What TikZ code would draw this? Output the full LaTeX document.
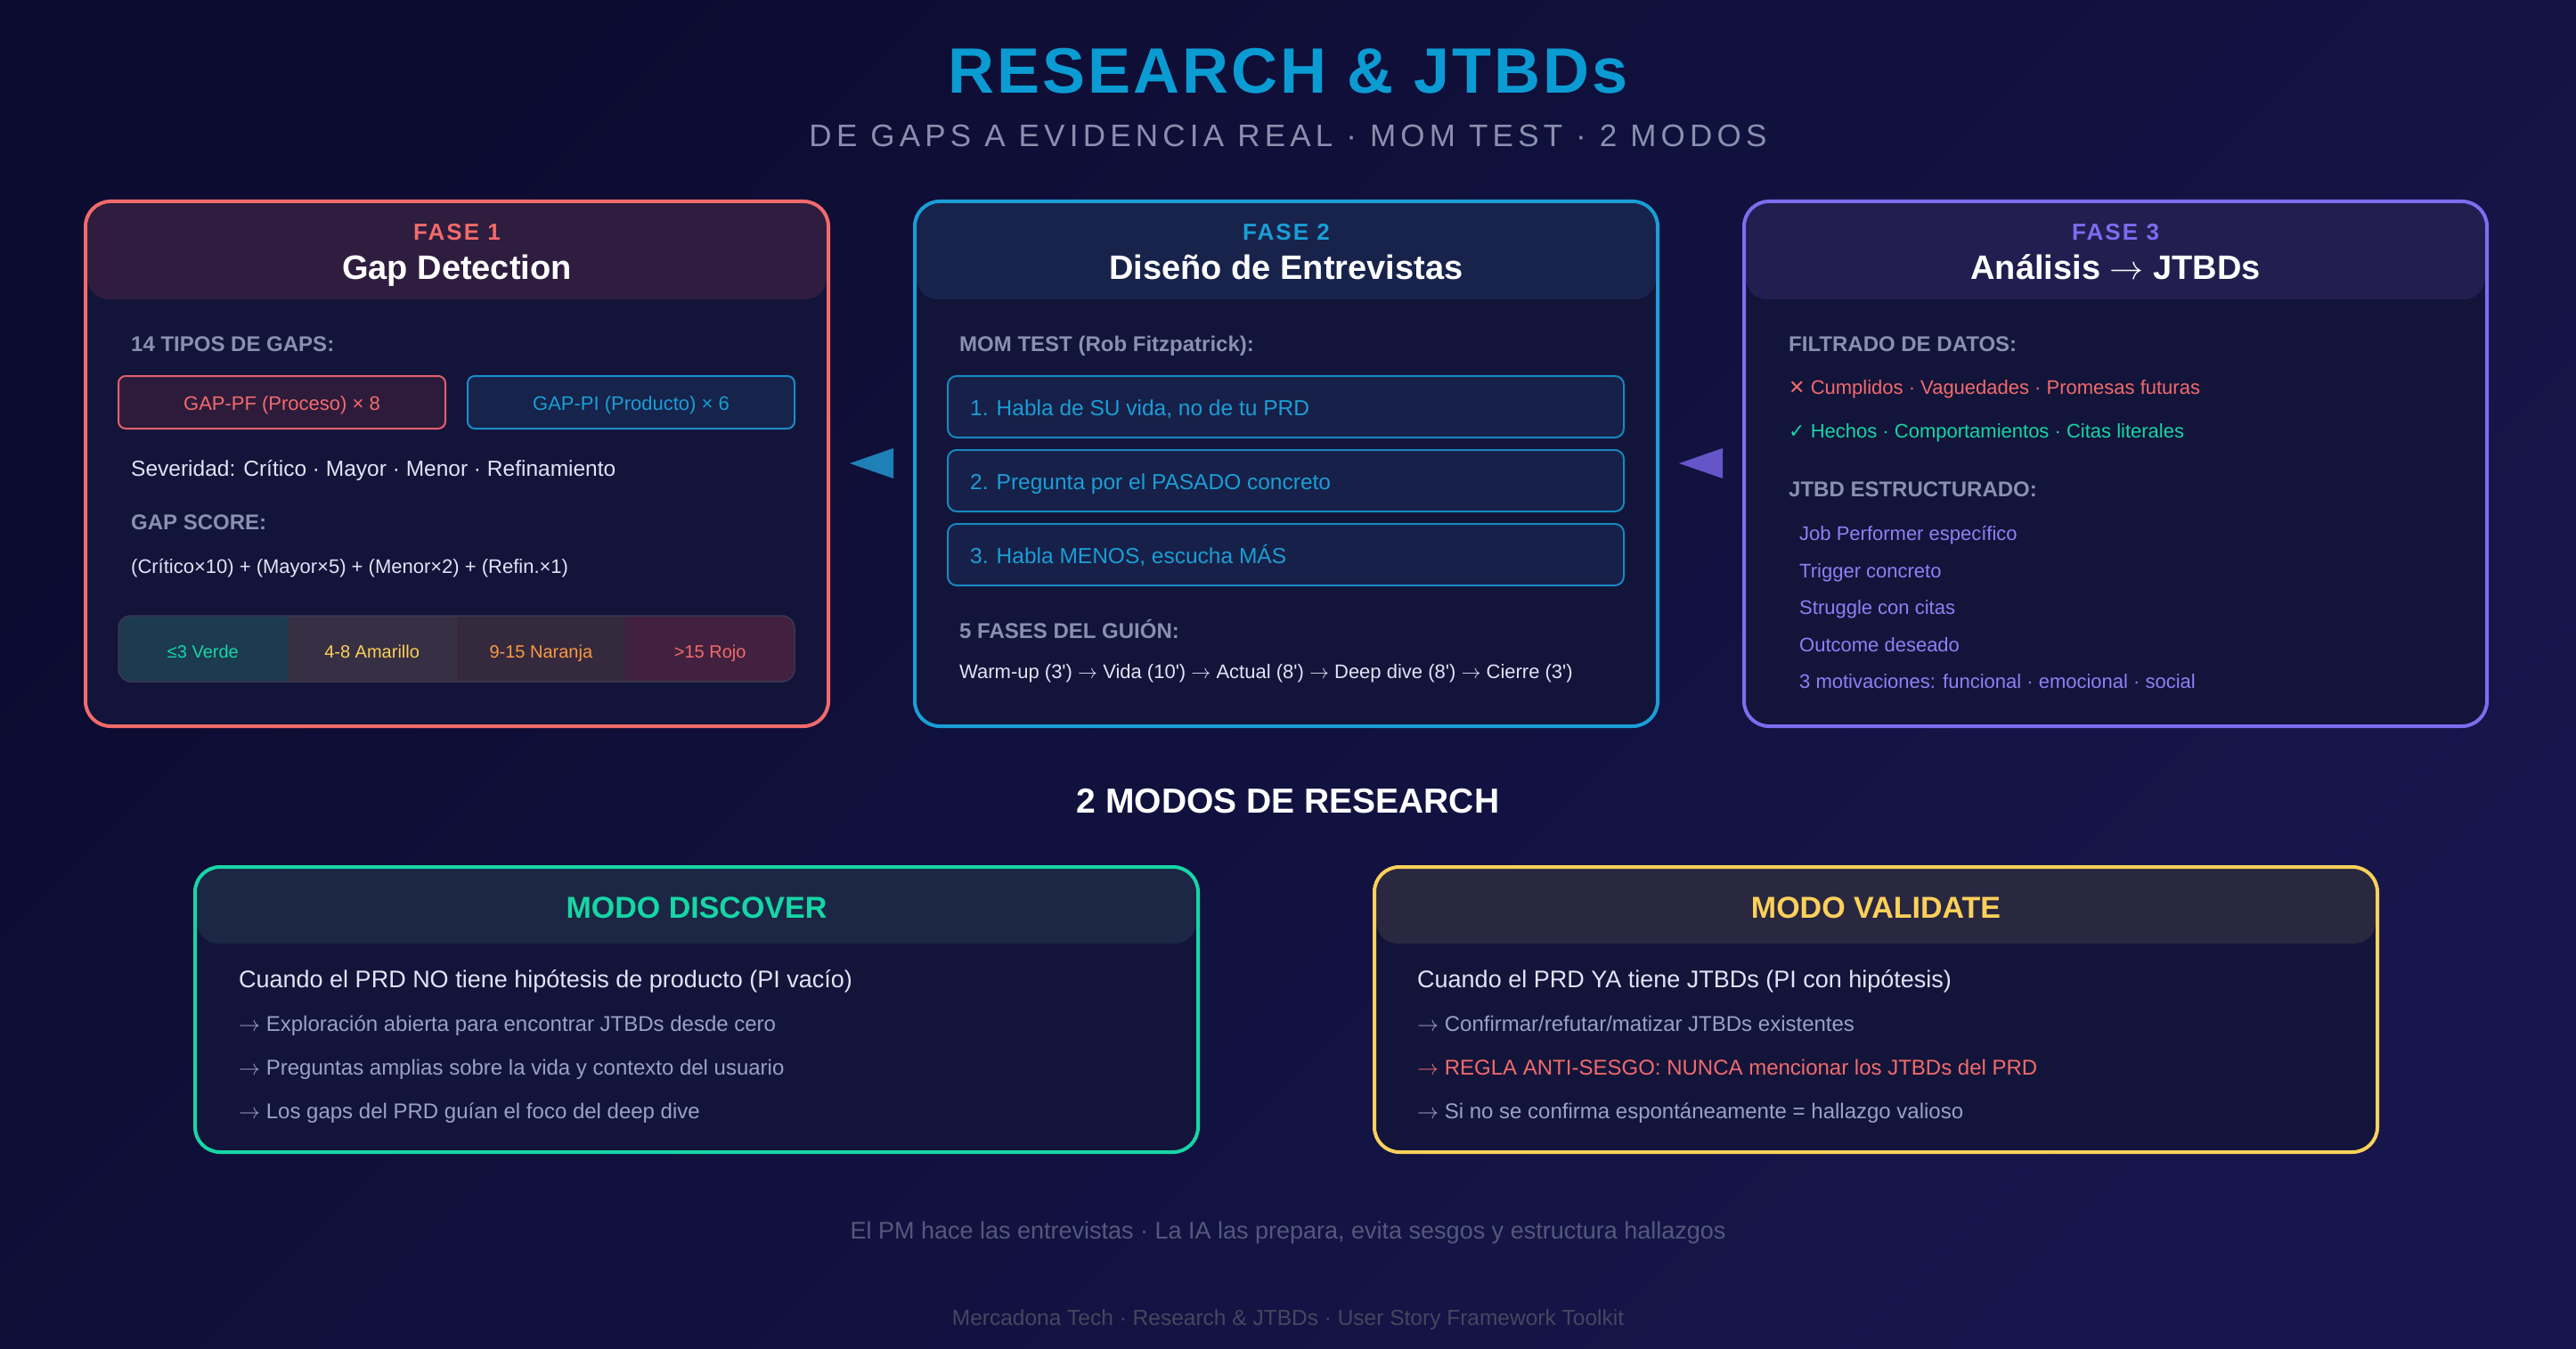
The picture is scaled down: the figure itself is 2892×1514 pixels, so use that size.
\RequirePackage{fix-cm}
\documentclass[tikz,border=0pt]{standalone}
\usepackage{fontspec}
\setmainfont{Liberation Sans}
\newfontfamily\dejavu{DejaVu Sans}
\usetikzlibrary{positioning}

\newcommand\fsz[1]{\fontsize{#1pt}{#1pt}\selectfont}
\newcommand\apos{\XeTeXglyph\XeTeXcharglyph"27\relax}
\newcommand\arr{\ensuremath{\rightarrow}}

\definecolor{bgA}{HTML}{0C0C31}
\definecolor{bgB}{HTML}{16164C}
\definecolor{bodyfill}{HTML}{13143A}
\definecolor{titleblue}{HTML}{0B9BD3}
\definecolor{subgray}{HTML}{8A8FAE}
\definecolor{redc}{HTML}{F26B6B}
\definecolor{bluec}{HTML}{1A9ED6}
\definecolor{purplec}{HTML}{7C6DF0}
\definecolor{itempurple}{HTML}{8E80F5}
\definecolor{greenc}{HTML}{16D6A6}
\definecolor{yellowc}{HTML}{FCD15A}
\definecolor{orangec}{HTML}{FB9A45}
\definecolor{labelgray}{HTML}{8A90B0}
\definecolor{textwhite}{HTML}{E2E3F6}
\definecolor{textdim}{HTML}{9CA0C4}
\definecolor{hdred}{HTML}{2E1D3E}
\definecolor{hdblue}{HTML}{17234B}
\definecolor{hdpurple}{HTML}{221E50}
\definecolor{hdgreen}{HTML}{1B2744}
\definecolor{hdyellow}{HTML}{2A2740}
\definecolor{tagredfill}{HTML}{2D1B3B}
\definecolor{tagrededge}{HTML}{E2606A}
\definecolor{tagbluefill}{HTML}{16234B}
\definecolor{tagblueedge}{HTML}{1A8CC8}
\definecolor{momfill}{HTML}{172048}
\definecolor{momedge}{HTML}{1787BF}
\definecolor{scA}{HTML}{1C3A50}
\definecolor{scB}{HTML}{372F43}
\definecolor{scC}{HTML}{35293D}
\definecolor{scD}{HTML}{41213F}
\definecolor{scedge}{HTML}{3B3654}
\definecolor{arrowblue}{HTML}{1E80B6}
\definecolor{arrowpurple}{HTML}{6555C8}
\definecolor{footA}{HTML}{55587A}
\definecolor{footB}{HTML}{46465E}

\tikzset{
  txt/.style={inner sep=0pt, anchor=base west},
  ctxt/.style={inner sep=0pt, anchor=base},
  seclabel/.style={txt, font=\bfseries\fsz{24}, text=labelgray},
  phasetag/.style={ctxt, font=\bfseries\fsz{26}\addfontfeature{LetterSpace=8}},
  phasetitle/.style={ctxt, font=\bfseries\fsz{38}, text=white},
  tagbox/.style={line width=2pt, rounded corners=8pt},
  tagtxt/.style={ctxt, font=\fsz{22}},
  mombox/.style={draw=momedge, fill=momfill, line width=2pt, rounded corners=10pt},
  momtxt/.style={txt, font=\fsz{24.5}, text=bluec},
  bodytxt/.style={txt, font=\fsz{22}},
  modetitle/.style={ctxt, font=\bfseries\fsz{34}},
  modelead/.style={txt, font=\fsz{27}, text=textwhite},
  modeline/.style={txt, font=\fsz{24}, text=textdim}
}

\begin{document}
\begin{tikzpicture}[x=1pt, y=-1pt]
  % Background
  \fill[top color=bgA, bottom color=bgB, shading angle=45] (0,0) rectangle (2892,1514);
  \useasboundingbox (0,0) rectangle (2892,1514);

  % Title and subtitle
  \node[ctxt, font=\bfseries\fsz{72}\addfontfeature{LetterSpace=4.2}, text=titleblue] (title) at (1446,105) {RESEARCH \& JTBDs};
  \node[ctxt, font=\fsz{35}\addfontfeature{LetterSpace=15}, text=subgray] (subtitle) at (1446,165) {DE GAPS A EVIDENCIA REAL · MOM TEST · 2 MODOS};

  % Draw the three phase panels
  \foreach \x/\hd/\bd in {96/hdred/redc, 1027/hdblue/bluec, 1958/hdpurple/purplec} {
    \fill[bodyfill, rounded corners=28pt] (\x,226) rectangle ++(834,589);
    \fill[\hd, rounded corners=24pt] (\x+2,228) rectangle ++(830,108);
    \draw[\bd, line width=4pt, rounded corners=28pt] (\x,226) rectangle ++(834,589);
  }

  % Panel headers
  \node[phasetag, text=redc] (tag1) at (513,270) {FASE 1};
  \node[phasetitle] (head1) at (513,314) {Gap Detection};
  \node[phasetag, text=bluec] (tag2) at (1444,270) {FASE 2};
  \node[phasetitle] (head2) at (1444,314) {Diseño de Entrevistas};
  \node[phasetag, text=purplec] (tag3) at (2375,270) {FASE 3};
  \node[phasetitle] (head3) at (2375,314) {Análisis \arr{} JTBDs};

  % Arrows between the panels
  \coordinate (gap12) at (978.5,520);
  \coordinate (gap23) at (1909.5,520);
  \fill[arrowblue] (gap12) ++(-24.5,0) -- ++(49,-17) -- ++(0,34) -- cycle;
  \fill[arrowpurple] (gap23) ++(-24.5,0) -- ++(49,-17) -- ++(0,34) -- cycle;

  % Phase 1: gap detection
  \node[seclabel] (tipos) at (147,394) {14 TIPOS DE GAPS:};
  \draw[tagbox, draw=tagrededge, fill=tagredfill] (133,422) rectangle (500,481);
  \node[tagtxt, text=redc] (gappf) at (316.5,460) {GAP-PF (Proceso) × 8};
  \draw[tagbox, draw=tagblueedge, fill=tagbluefill] (525,422) rectangle (892,481);
  \node[tagtxt, text=bluec] (gappi) at (708.5,460) {GAP-PI (Producto) × 6};
  \node[txt, font=\fsz{24.5}, text=textwhite] (sev) at (147,534) {Severidad: Crítico · Mayor · Menor · Refinamiento};
  \node[seclabel] (score) at (147,594) {GAP SCORE:};
  \node[bodytxt, text=textwhite] (formula) at (147,643) {(Crítico×10) + (Mayor×5) + (Menor×2) + (Refin.×1)};

  % Score bar
  \begin{scope}
    \clip[rounded corners=14pt] (133,691) rectangle (892,765);
    \foreach \k/\c in {0/scA, 1/scB, 2/scC, 3/scD}
      \fill[\c] (133+\k*189.75,691) rectangle ++(189.75,74);
  \end{scope}
  \draw[scedge, line width=1.5pt, rounded corners=14pt] (133,691) rectangle (892,765);
  \foreach \k/\t/\c in {0/{≤3 Verde}/greenc, 1/{4-8 Amarillo}/yellowc, 2/{9-15 Naranja}/orangec, 3/{>15 Rojo}/redc}
    \node[ctxt, font=\fsz{20}, text=\c] (band\k) at (227.9+\k*189.75,738.5) {\t};

  % Phase 2: interview design
  \node[seclabel] (mom) at (1077,394) {MOM TEST (Rob Fitzpatrick):};
  \foreach \y/\t [count=\i] in {422/{1. Habla de SU vida, no de tu PRD}, 505/{2. Pregunta por el PASADO concreto}, 588/{3. Habla MENOS, escucha MÁS}} {
    \draw[mombox] (1064,\y) rectangle ++(759,69);
    \node[momtxt] (rule\i) at (1089,\y+44) {\t};
  }
  \node[seclabel] (guion) at (1077,716) {5 FASES DEL GUIÓN:};
  \node[bodytxt, text=textwhite] (script) at (1077,761) {Warm-up (3\apos) \arr{} Vida (10\apos) \arr{} Actual (8\apos) \arr{} Deep dive (8\apos) \arr{} Cierre (3\apos)};

  % Phase 3: analysis
  \node[seclabel] (filtro) at (2008,394) {FILTRADO DE DATOS:};
  \node[bodytxt, text=redc] (bad) at (2008,442) {{\dejavu ✕} Cumplidos · Vaguedades · Promesas futuras};
  \node[bodytxt, text=greenc] (good) at (2008,491) {{\dejavu ✓} Hechos · Comportamientos · Citas literales};
  \node[seclabel] (jtbd) at (2008,557) {JTBD ESTRUCTURADO:};
  \foreach \y/\t [count=\i] in {606.5/{Job Performer específico}, 648.6/{Trigger concreto}, 689/{Struggle con citas}, 731/{Outcome deseado}, 772/{3 motivaciones: funcional · emocional · social}}
    \node[bodytxt, text=itempurple] (part\i) at (2020,\y) {\t};

  % Research modes
  \node[ctxt, font=\bfseries\fsz{39}, text=white] (modes) at (1446,912) {2 MODOS DE RESEARCH};
  \foreach \x/\hd/\bd in {219/hdgreen/greenc, 1543/hdyellow/yellowc} {
    \fill[bodyfill, rounded corners=28pt] (\x,973) rectangle ++(1126,320);
    \fill[\hd, rounded corners=24pt] (\x+2,975) rectangle ++(1122,84);
    \draw[\bd, line width=4pt, rounded corners=28pt] (\x,973) rectangle ++(1126,320);
  }

  % Discover mode
  \node[modetitle, text=greenc] (disc) at (782,1030) {MODO DISCOVER};
  \node[modelead] (disc0) at (268,1108) {Cuando el PRD NO tiene hipótesis de producto (PI vacío)};
  \node[modeline] (disc1) at (268,1157) {\arr{} Exploración abierta para encontrar JTBDs desde cero};
  \node[modeline] (disc2) at (268,1206) {\arr{} Preguntas amplias sobre la vida y contexto del usuario};
  \node[modeline] (disc3) at (268,1255) {\arr{} Los gaps del PRD guían el foco del deep dive};

  % Validate mode
  \node[modetitle, text=yellowc] (vali) at (2106,1030) {MODO VALIDATE};
  \node[modelead] (vali0) at (1591,1108) {Cuando el PRD YA tiene JTBDs (PI con hipótesis)};
  \node[modeline] (vali1) at (1591,1157) {\arr{} Confirmar/refutar/matizar JTBDs existentes};
  \node[modeline, text=redc] (vali2) at (1591,1206) {\arr{} REGLA ANTI-SESGO: NUNCA mencionar los JTBDs del PRD};
  \node[modeline] (vali3) at (1591,1255) {\arr{} Si no se confirma espontáneamente = hallazgo valioso};

  % Footer
  \node[ctxt, font=\fsz{27}, text=footA] (note) at (1446,1390) {El PM hace las entrevistas · La IA las prepara, evita sesgos y estructura hallazgos};
  \node[ctxt, font=\fsz{24.5}, text=footB] (credit) at (1446,1487) {Mercadona Tech · Research \& JTBDs · User Story Framework Toolkit};
\end{tikzpicture}
\end{document}
